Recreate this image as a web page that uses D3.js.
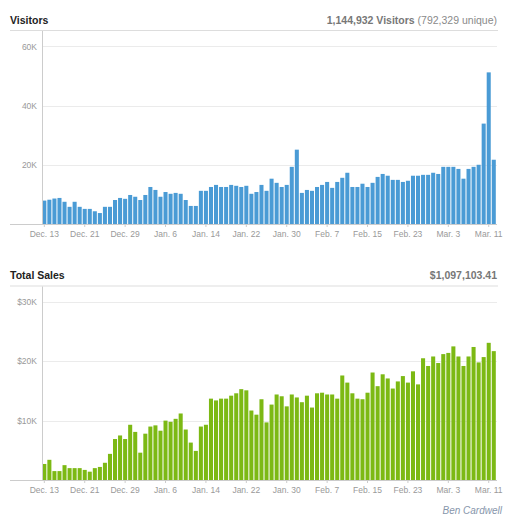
<!DOCTYPE html>
<html>
<head>
<meta charset="utf-8">
<script src="https://cdn.jsdelivr.net/npm/d3@7"></script>
<style>
  body { margin: 0; background: #fff; }
  svg { display: block; font-family: "Liberation Sans", Arial, sans-serif; }
  .tick text { fill: #999; font-size: 8.5px; }
</style>
</head>
<body>
<div id="chart"></div>
<script>
// daily values, Dec 13 -> Mar 12 (thousands)
var visitors = [7.9,8.2,8.6,8.8,7.5,5.8,7.5,5.8,5.1,5.1, 4.3,3.7,5.8,5.8,8.1,8.8,8.5,9.8,9.2,8.1,
  9.8,12.5,11.5,9.2,10.8,10.2,10.5,10.2,8.1,6.1, 6.1,11.2,11.2,12.5,13.2,12.5,12.5,13.2,12.9,12.5,
  12.9,10.2,10.8,13.2,11.2,15.3,13.9,12.5,13.2,19.3, 25.1,10.5,11.5,11.2,12.5,13.2,14.2,12.2,14.2,15.6,
  17.3,12.5,12.5,13.6,12.5,13.9,15.9,16.9,16.3,14.9, 14.9,14.2,14.6,16.3,16.3,16.6,16.6,17.3,16.9,19.3,
  19.3,19.3,18.6,15.3,18.6,19.3,20.0,33.9,51.2,21.7];
var sales = [2.7,3.4,1.5,1.5,2.5,2.0,2.0,2.0,1.7,1.4, 2.0,2.2,2.9,4.4,6.9,7.5,6.9,9.3,8.1,4.6,
  7.8,9.0,9.2,8.3,10.0,9.8,10.3,11.2,8.5,6.3, 4.9,9.0,9.3,13.7,13.4,13.7,13.7,14.2,14.6,15.3,
  15.1,11.7,11.0,13.6,9.7,12.7,14.4,14.1,12.4,14.4, 13.9,13.1,14.2,12.2,14.6,14.7,14.4,14.4,13.7,17.6,
  16.4,14.6,13.7,13.6,14.7,18.1,15.8,17.8,17.1,15.4, 16.6,17.5,16.4,18.3,16.1,20.5,19.2,20.8,19.7,21.2,
  21.4,22.5,20.8,19.2,20.8,22.4,19.8,20.7,23.1,21.7];

var tickLabels = ["Dec. 13","Dec. 21","Dec. 29","Jan. 6","Jan. 14","Jan. 22","Jan. 30",
  "Feb. 7","Feb. 15","Feb. 23","Mar. 3","Mar. 11"];
var visitorTicks = [20, 40, 60];
var salesTicks = [10, 20, 30];

// one category per day
var fmt = d3.timeFormat("%b. %-d");
var days = d3.timeDay.range(new Date(2010, 11, 13), new Date(2011, 2, 13)).map(fmt);

var W = 507, H = 524;
var svg = d3.select("#chart").append("svg")
    .attr("width", W)
    .attr("height", H);

var x = d3.scaleBand()
    .domain(days)
    .range([41.8, 496.3])
    .paddingInner(0.2)
    .paddingOuter(0.1);

function drawPanel(opts) {
  var g = svg.append("g");

  // header
  g.append("text")
    .attr("x", 10).attr("y", opts.headY)
    .attr("font-size", "10.5px").attr("font-weight", "bold")
    .attr("fill", "#222")
    .text(opts.title);
  var rt = g.append("text")
    .attr("x", 497).attr("y", opts.headY)
    .attr("text-anchor", "end")
    .attr("font-size", "10.5px");
  rt.append("tspan").attr("font-weight", "bold").attr("fill", "#777").text(opts.total);
  if (opts.extra) rt.append("tspan").attr("fill", "#8a8a8a").text(opts.extra);
  g.append("line")
    .attr("x1", 10).attr("x2", 498)
    .attr("y1", opts.lineY).attr("y2", opts.lineY)
    .attr("stroke", "#ddd");

  var y = d3.scaleLinear().domain([0, opts.max]).range([opts.base, opts.lineY + 1]);

  // grid
  g.selectAll(".grid")
    .data(opts.yTicks)
    .enter().append("line")
    .attr("x1", 43).attr("x2", 497)
    .attr("y1", function(d) { return Math.round(y(d)) + 0.5; })
    .attr("y2", function(d) { return Math.round(y(d)) + 0.5; })
    .attr("stroke", "#ebebeb");

  // bars
  g.selectAll(".bar")
    .data(opts.values)
    .enter().append("rect")
    .attr("x", function(d, i) { return x(days[i]); })
    .attr("width", x.bandwidth())
    .attr("y", function(d) { return y(d); })
    .attr("height", function(d) { return opts.base - y(d); })
    .attr("fill", opts.color);

  // y axis
  var ya = g.append("g")
    .attr("transform", "translate(40,0)")
    .call(d3.axisLeft(y).tickValues(opts.yTicks).tickSize(0).tickFormat(opts.yFormat));
  ya.select(".domain").remove();
  g.append("line")
    .attr("x1", 42.5).attr("x2", 42.5)
    .attr("y1", opts.lineY + 0.5).attr("y2", opts.base)
    .attr("stroke", "#ccc");

  // x axis
  var xa = g.append("g")
    .attr("transform", "translate(0," + opts.base + ")")
    .call(d3.axisBottom(x).tickValues(tickLabels).tickSize(3).tickPadding(4));
  xa.select(".domain").remove();
  xa.selectAll(".tick line").attr("stroke", "#ccc");
  g.append("line")
    .attr("x1", 10).attr("x2", 497)
    .attr("y1", opts.base + 0.5).attr("y2", opts.base + 0.5)
    .attr("stroke", "#ccc");
}

drawPanel({
  title: "Visitors", total: "1,144,932 Visitors ", extra: "(792,329 unique)",
  headY: 24, lineY: 30.5, base: 224, max: 65,
  values: visitors, yTicks: visitorTicks, color: "#4a9bd5",
  yFormat: function(d) { return d + "K"; }
});

drawPanel({
  title: "Total Sales", total: "$1,097,103.41", extra: null,
  headY: 279, lineY: 286, base: 480, max: 32.5,
  values: sales, yTicks: salesTicks, color: "#7cb914",
  yFormat: function(d) { return "$" + d + "K"; }
});

svg.append("text")
  .attr("x", 502).attr("y", 514)
  .attr("text-anchor", "end")
  .attr("font-size", "10px")
  .attr("font-style", "italic")
  .attr("fill", "#8796ab")
  .text("Ben Cardwell");
</script>
</body>
</html>
